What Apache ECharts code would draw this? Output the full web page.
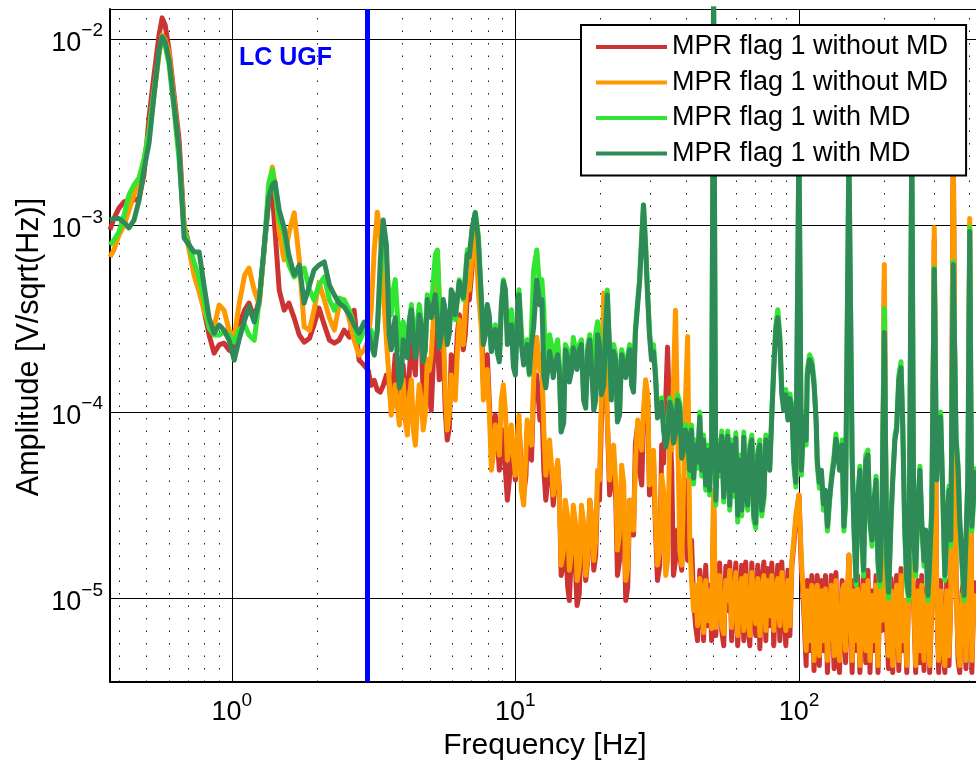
<!DOCTYPE html>
<html><head><meta charset="utf-8">
<script src="https://cdn.jsdelivr.net/npm/echarts@6/dist/echarts.min.js"></script>
<style>html,body{margin:0;padding:0;background:#fff}#c{width:976px;height:765px}</style>
</head><body><div id="c"></div>
<script>
// Frequencies [Hz] shared by all four spectra
const freqHz = [
0.372,0.384,0.400,0.417,0.434,0.452,0.471,0.490,0.511,0.532,0.554,0.568,0.582,0.601,0.626,0.652,0.679,0.707,0.736,0.767,0.798,0.832,0.866,0.902,0.939,0.978,1.02,1.06,1.11,1.15,1.20,1.25,1.30,1.35,1.39,1.42,1.47,1.53,1.59,1.66,1.73,1.80,1.88,1.95,2.03,2.12,2.21,2.30,2.39,2.49,2.60,2.70,2.81,2.93,
3.03,3.10,3.18,3.26,3.34,3.42,3.51,3.59,
3.65,3.71,3.77,3.83,3.90,3.96,4.02,4.09,4.16,4.23,
4.30,4.37,4.44,4.51,4.58,4.66,4.73,4.81,4.89,4.97,
5.05,5.14,5.22,5.31,5.39,5.48,5.57,5.66,5.75,5.85,
5.94,6.04,6.14,6.24,6.34,6.45,6.55,6.66,6.77,6.88,
7.05,7.22,7.40,7.59,
7.71,7.84,7.96,8.09,8.23,8.36,8.50,8.64,8.78,8.92,
9.07,9.22,9.37,9.52,9.68,9.84,10.0,10.2,10.3,10.5,
10.7,10.9,11.0,11.2,11.4,11.6,
11.9,12.2,
12.4,12.6,12.8,13.0,13.2,13.4,13.6,13.8,14.1,14.3,
14.5,
14.8,15.0,15.3,15.5,15.8,16.0,16.3,16.5,16.8,17.1,
17.4,17.7,18.0,18.3,18.6,18.9,19.2,19.5,19.8,20.1,
20.5,20.8,21.1,21.5,21.8,22.2,22.6,22.9,23.3,23.7,
24.1,24.5,24.9,25.3,25.7,26.1,26.5,27.0,27.4,27.9,
28.3,28.8,29.3,29.7,30.2,30.7,31.2,31.7,32.3,32.8,
33.3,33.9,34.4,35.0,35.6,36.1,36.7,37.3,38.0,38.6,
39.2,39.8,
40.5,41.2,41.8,42.5,43.2,43.9,44.7,45.4,46.1,46.9,47.7,48.4,49.2,50,
50.9,51.7,52.5,53.4,54.3,55.2,56.1,57.0,57.9,58.9,59.9,60.8,61.8,62.8,63.9,64.9,66.0,67.1,68.2,69.3,70.4,71.6,72.8,73.9,75.2,76.4,77.6,78.9,80.2,81.5,82.9,84.2,85.6,87.0,88.4,89.9,91.4,92.9,94.4,95.9,97.5,100,
102,104,106,107,109,111,113,115,116,118,120,122,124,126,128,130,133,135,137,139,142,144,146,150,
154,156,159,161,164,167,169,172,175,178,181,184,187,190,193,196,200,
204,207,211,214,218,221,225,229,232,236,240,244,250,
254,258,263,267,271,276,280,285,289,294,300,
306,311,316,322,327,332,338,343,350,
358,364,369,376,382,388,394,400,407,414,421
];
// MPR flag 1 without MD (red)
const ampRed = [
9.50e-4,1.09e-3,1.24e-3,1.34e-3,1.37e-3,1.37e-3,1.40e-3,1.87e-3,3.83e-3,6.43e-3,1.05e-2,1.30e-2,1.19e-2,8.76e-3,5.02e-3,2.88e-3,1.00e-3,7.87e-4,6.14e-4,5.10e-4,3.52e-4,2.59e-4,2.07e-4,2.29e-4,2.34e-4,2.15e-4,2.07e-4,2.93e-4,3.52e-4,3.84e-4,3.19e-4,3.99e-4,7.40e-4,1.37e-3,1.49e-3,9.50e-4,4.51e-4,3.52e-4,3.84e-4,3.19e-4,2.59e-4,2.37e-4,2.49e-4,2.93e-4,3.61e-4,2.93e-4,2.43e-4,2.34e-4,2.43e-4,2.75e-4,2.52e-4,3.52e-4,1.90e-4,1.78e-4,
1.67e-4,1.39e-4,1.48e-4,1.31e-4,1.28e-4,1.39e-4,1.58e-4,1.39e-4,
1.09e-4,1.48e-4,2.03e-4,1.67e-4,1.09e-4,1.39e-4,1.79e-4,1.31e-4,1.02e-4,1.67e-4,
2.44e-4,1.90e-4,1.58e-4,2.93e-4,3.54e-4,2.43e-4,1.24e-4,1.48e-4,1.91e-4,1.23e-4,
1.02e-4,1.90e-4,2.94e-4,2.43e-4,1.49e-4,1.78e-4,2.16e-4,1.02e-4,7.08e-5,8.20e-5,
2.03e-4,1.90e-4,1.58e-4,2.59e-4,3.33e-4,2.75e-4,2.16e-4,2.59e-4,4.26e-4,3.99e-4,
6.14e-4,8.91e-4,5.43e-4,3.52e-4,
1.40e-4,1.67e-4,2.03e-4,1.16e-4,6.65e-5,8.00e-5,9.63e-5,7.07e-5,4.88e-5,6.25e-5,
8.01e-5,4.88e-5,3.37e-5,4.31e-5,7.08e-5,5.52e-5,4.32e-5,7.07e-5,8.52e-5,4.88e-5,
3.59e-5,4.59e-5,8.01e-5,6.65e-5,5.52e-5,1.31e-4,
1.58e-4,9.05e-5,
1.09e-4,4.88e-5,3.37e-5,4.31e-5,5.88e-5,4.88e-5,3.17e-5,4.05e-5,5.19e-5,3.81e-5,
1.33e-5,
1.60e-5,2.06e-5,1.15e-5,9.76e-6,1.93e-5,2.47e-5,1.42e-5,9.17e-6,1.06e-5,2.47e-5,
2.06e-5,1.25e-5,1.60e-5,3.37e-5,2.63e-5,1.42e-5,1.71e-5,4.06e-5,3.37e-5,9.06e-5,
3.99e-4,1.49e-4,9.05e-5,3.59e-5,4.31e-5,5.52e-5,3.37e-5,1.33e-5,1.60e-5,4.32e-5,
3.37e-5,9.76e-6,1.15e-5,3.37e-5,2.63e-5,2.19e-5,6.81e-5,8.52e-5,4.88e-5,4.06e-5,
9.05e-5,1.40e-4,1.16e-4,3.59e-5,4.31e-5,5.52e-5,2.33e-5,1.25e-5,1.51e-5,6.65e-5,
5.32e-5,1.16e-4,2.23e-4,9.06e-5,4.88e-5,1.33e-5,1.60e-5,2.33e-5,1.71e-5,1.42e-5,
3.37e-5,4.32e-5,
1.60e-5,1.93e-5,2.06e-5,9.76e-6,7.16e-6,5.95e-6,1.42e-5,1.10e-5,5.95e-6,1.51e-5,7.16e-6,1.18e-5,5.95e-6,3.37e-5,
6.33e-6,1.33e-5,1.55e-5,6.74e-6,5.59e-6,1.49e-5,8.62e-6,1.57e-5,5.95e-6,1.10e-5,1.55e-5,5.59e-6,9.76e-6,1.51e-5,5.95e-6,1.57e-5,7.62e-6,5.59e-6,1.55e-5,8.62e-6,6.33e-6,1.51e-5,5.39e-6,1.18e-5,1.57e-5,5.95e-6,1.45e-5,7.16e-6,1.55e-5,5.59e-6,1.10e-5,1.51e-5,5.95e-6,1.57e-5,8.62e-6,5.59e-6,1.42e-5,6.33e-6,1.51e-5,1.93e-5,2.63e-5,3.59e-5,
1.42e-5,8.62e-6,4.37e-6,1.25e-5,5.26e-6,1.33e-5,4.11e-6,9.17e-6,1.33e-5,4.37e-6,1.25e-5,5.26e-6,1.33e-5,4.01e-6,8.11e-6,1.33e-5,4.21e-6,1.38e-5,5.26e-6,4.01e-6,1.25e-5,1.28e-5,4.53e-6,1.71e-5,
4.01e-6,1.25e-5,5.26e-6,1.33e-5,4.01e-6,9.17e-6,1.33e-5,4.53e-6,1.42e-5,4.01e-6,1.10e-5,5.26e-6,1.33e-5,4.01e-6,1.25e-5,6.74e-6,5.13e-4,
6.74e-6,4.21e-6,1.28e-5,4.01e-6,9.76e-6,1.33e-5,4.11e-6,1.45e-5,5.26e-6,9.76e-6,4.01e-6,1.25e-5,1.60e-5,
9.17e-6,4.01e-6,1.25e-5,4.53e-6,1.33e-5,4.11e-6,9.76e-6,1.25e-5,4.01e-6,9.17e-6,8.41e-4,
1.04e-5,4.01e-6,1.25e-5,5.26e-6,4.01e-6,1.25e-5,4.37e-6,9.76e-6,3.00e-3,
1.33e-5,4.65e-6,4.01e-6,1.10e-5,1.28e-5,4.21e-6,8.62e-6,9.52e-4,4.01e-6,1.10e-5,1.25e-5
];
// MPR flag 1 without MD (orange)
const ampOrange = [
6.78e-4,7.40e-4,8.91e-4,1.00e-3,1.21e-3,1.46e-3,1.76e-3,2.25e-3,3.14e-3,5.02e-3,8.24e-3,1.05e-2,9.91e-3,8.44e-3,4.72e-3,2.55e-3,1.00e-3,7.40e-4,5.43e-4,4.40e-4,3.52e-4,2.93e-4,2.86e-4,3.75e-4,3.52e-4,2.75e-4,2.52e-4,3.75e-4,5.43e-4,5.92e-4,4.51e-4,3.75e-4,7.40e-4,1.55e-3,2.06e-3,1.69e-3,9.24e-4,6.54e-4,9.13e-4,1.17e-3,6.54e-4,2.86e-4,2.75e-4,3.52e-4,4.92e-4,3.99e-4,3.19e-4,2.75e-4,3.75e-4,3.99e-4,3.11e-4,2.43e-4,2.02e-4,2.15e-4,
2.43e-4,3.52e-4,7.40e-4,1.18e-3,8.91e-4,4.51e-4,2.43e-4,1.48e-4,
9.63e-5,1.16e-4,1.40e-4,1.09e-4,8.52e-5,1.23e-4,1.49e-4,9.05e-5,7.53e-5,1.23e-4,
1.49e-4,8.00e-5,6.65e-5,1.02e-4,1.40e-4,1.16e-4,8.01e-5,9.62e-5,1.91e-4,1.67e-4,
2.03e-4,3.11e-4,4.53e-4,7.22e-4,4.01e-4,2.75e-4,2.77e-4,1.31e-4,8.01e-5,1.00e-4,
1.58e-4,1.31e-4,1.16e-4,2.02e-4,3.13e-4,2.75e-4,2.30e-4,3.52e-4,5.13e-4,4.51e-4,
6.95e-4,9.50e-4,4.51e-4,2.75e-4,
1.16e-4,1.39e-4,1.69e-4,1.02e-4,4.88e-5,5.87e-5,8.52e-5,7.07e-5,5.88e-5,1.16e-4,
1.40e-4,1.02e-4,5.52e-5,6.65e-5,8.52e-5,5.87e-5,4.59e-5,8.00e-5,9.63e-5,3.81e-5,
3.17e-5,6.25e-5,9.06e-5,7.52e-5,6.65e-5,1.48e-4,
2.52e-4,1.67e-4,
1.91e-4,8.00e-5,4.59e-5,5.87e-5,7.08e-5,5.19e-5,3.59e-5,4.31e-5,5.52e-5,3.58e-5,
1.51e-5,
1.82e-5,3.37e-5,2.73e-5,1.42e-5,1.82e-5,3.17e-5,2.54e-5,1.25e-5,1.47e-5,3.17e-5,
2.54e-5,1.33e-5,1.66e-5,3.37e-5,2.73e-5,1.60e-5,2.06e-5,4.88e-5,4.31e-5,1.16e-4,
4.35e-4,1.91e-4,9.39e-5,4.32e-5,5.32e-5,6.65e-5,4.16e-5,1.82e-5,2.24e-5,5.19e-5,
4.16e-5,1.25e-5,1.47e-5,3.37e-5,2.73e-5,2.33e-5,5.32e-5,9.06e-5,7.33e-5,6.25e-5,
1.02e-4,1.49e-4,1.23e-4,4.06e-5,4.88e-5,6.25e-5,2.63e-5,1.51e-5,1.82e-5,4.59e-5,
3.81e-5,1.33e-5,1.60e-5,7.08e-5,6.25e-5,1.49e-4,3.52e-4,9.06e-5,1.82e-5,1.51e-5,
4.16e-5,1.16e-4,
2.54e-4,2.06e-5,1.25e-5,8.62e-6,1.18e-5,7.16e-6,1.28e-5,9.76e-6,6.57e-6,1.25e-5,7.62e-6,1.10e-5,6.90e-6,3.81e-5,
6.99e-6,1.10e-5,1.33e-5,7.16e-6,6.49e-6,1.25e-5,9.76e-6,1.42e-5,6.99e-6,9.76e-6,1.38e-5,6.33e-6,9.76e-6,1.28e-5,6.74e-6,1.33e-5,8.11e-6,6.33e-6,1.38e-5,9.76e-6,7.34e-6,1.28e-5,6.33e-6,1.10e-5,1.33e-5,6.74e-6,1.25e-5,8.11e-6,1.33e-5,6.74e-6,1.10e-5,1.28e-5,7.16e-6,1.38e-5,9.76e-6,6.74e-6,1.25e-5,7.16e-6,1.60e-5,2.06e-5,2.80e-5,3.59e-5,
1.60e-5,9.76e-6,5.26e-6,1.10e-5,5.95e-6,1.18e-5,4.65e-6,9.76e-6,1.18e-5,4.94e-6,1.10e-5,5.95e-6,1.13e-5,4.65e-6,8.62e-6,1.18e-5,4.94e-6,1.25e-5,5.95e-6,4.65e-6,1.10e-5,1.18e-5,5.26e-6,1.71e-5,
4.65e-6,1.10e-5,5.95e-6,1.13e-5,4.37e-6,9.76e-6,1.18e-5,5.26e-6,1.25e-5,4.65e-6,1.04e-5,5.95e-6,1.18e-5,4.37e-6,1.10e-5,7.62e-6,6.18e-4,
7.62e-6,4.94e-6,1.10e-5,4.37e-6,9.76e-6,1.18e-5,4.65e-6,1.33e-5,5.95e-6,9.76e-6,4.37e-6,1.10e-5,1.60e-5,
9.76e-6,4.37e-6,1.10e-5,5.26e-6,1.18e-5,4.65e-6,9.76e-6,1.10e-5,4.37e-6,9.76e-6,9.76e-4,
9.76e-6,4.65e-6,1.10e-5,5.95e-6,4.37e-6,1.10e-5,4.94e-6,9.76e-6,3.00e-3,
1.18e-5,5.26e-6,4.37e-6,1.04e-5,1.10e-5,4.65e-6,8.62e-6,1.09e-3,4.65e-6,1.04e-5,9.76e-6
];
// MPR flag 1 with MD (light green)
const ampLightGreen = [
7.87e-4,8.37e-4,9.24e-4,1.14e-3,1.46e-3,1.65e-3,1.80e-3,2.25e-3,3.26e-3,5.34e-3,8.55e-3,1.03e-2,9.32e-3,7.28e-3,4.17e-3,2.25e-3,9.50e-4,7.87e-4,6.38e-4,5.23e-4,3.99e-4,2.82e-4,2.59e-4,2.59e-4,2.68e-4,2.59e-4,2.37e-4,2.75e-4,2.93e-4,2.59e-4,2.43e-4,3.99e-4,7.40e-4,1.69e-3,1.99e-3,1.55e-3,1.07e-3,9.13e-4,6.14e-4,5.30e-4,5.64e-4,5.92e-4,4.51e-4,3.99e-4,4.80e-4,5.30e-4,3.99e-4,3.52e-4,4.09e-4,3.99e-4,3.52e-4,2.93e-4,2.37e-4,2.75e-4,
2.59e-4,2.75e-4,2.29e-4,2.75e-4,5.10e-4,9.50e-4,6.54e-4,3.99e-4,
3.33e-4,4.51e-4,5.13e-4,3.52e-4,2.16e-4,2.43e-4,3.05e-4,2.59e-4,2.30e-4,3.11e-4,
3.77e-4,2.75e-4,2.38e-4,2.93e-4,3.77e-4,3.11e-4,1.91e-4,2.15e-4,4.26e-4,3.99e-4,
3.54e-4,5.10e-4,6.99e-4,7.40e-4,4.01e-4,3.11e-4,3.77e-4,2.93e-4,2.38e-4,2.75e-4,
4.11e-4,3.52e-4,3.13e-4,3.99e-4,5.13e-4,4.51e-4,4.01e-4,5.43e-4,7.43e-4,6.95e-4,
9.71e-4,1.18e-3,8.91e-4,3.99e-4,
2.44e-4,2.75e-4,3.63e-4,3.11e-4,2.11e-4,2.43e-4,2.94e-4,2.15e-4,1.91e-4,3.52e-4,
5.13e-4,4.51e-4,2.77e-4,3.11e-4,3.54e-4,1.90e-4,1.69e-4,3.99e-4,4.53e-4,2.75e-4,
1.86e-4,2.15e-4,2.44e-4,1.58e-4,2.77e-4,5.78e-4,
7.40e-4,4.51e-4,
5.13e-4,3.52e-4,1.69e-4,1.90e-4,2.60e-4,2.29e-4,1.86e-4,2.15e-4,2.44e-4,1.78e-4,
8.01e-5,
9.05e-5,2.30e-4,2.15e-4,1.58e-4,1.86e-4,2.51e-4,2.15e-4,1.86e-4,2.29e-4,2.44e-4,
1.28e-4,1.16e-4,2.29e-4,2.60e-4,1.90e-4,1.69e-4,2.65e-4,3.05e-4,2.43e-4,1.32e-4,
1.48e-4,3.13e-4,4.51e-4,1.91e-4,1.23e-4,2.30e-4,2.02e-4,9.29e-5,1.02e-4,2.16e-4,
1.90e-4,1.69e-4,2.02e-4,2.30e-4,1.52e-4,1.40e-4,2.82e-4,4.01e-4,5.10e-4,8.95e-4,
1.29e-3,7.91e-4,4.24e-4,2.77e-4,2.02e-4,2.30e-4,1.64e-4,1.00e-4,1.09e-4,1.19e-4,
8.51e-5,6.90e-5,7.80e-5,1.19e-4,1.09e-4,7.25e-5,8.20e-5,1.24e-4,1.13e-4,6.10e-5,
6.65e-5,8.52e-5,
7.81e-5,4.53e-5,8.52e-5,4.11e-5,7.08e-5,5.00e-5,1.00e-4,4.53e-5,7.53e-5,3.81e-5,6.65e-5,3.59e-5,7.08e-5,2.00e-2,
3.17e-5,7.08e-5,4.53e-5,7.91e-5,3.29e-5,6.65e-5,7.91e-5,2.98e-5,7.08e-5,3.54e-5,7.72e-5,2.57e-5,5.88e-5,2.77e-5,7.81e-5,3.37e-5,2.98e-5,6.65e-5,7.53e-5,2.63e-5,2.38e-5,6.25e-5,7.08e-5,2.77e-5,3.37e-5,7.53e-5,6.25e-5,5.19e-5,1.00e-4,1.79e-4,2.94e-4,3.54e-4,2.60e-4,1.32e-4,1.09e-4,1.32e-4,9.63e-5,1.25e-4,1.09e-4,5.19e-5,3.96e-5,3.00e-3,
4.59e-5,1.00e-4,6.65e-5,1.69e-4,2.03e-4,1.91e-4,1.49e-4,8.52e-5,5.19e-5,3.91e-5,4.59e-5,2.98e-5,3.59e-5,2.30e-5,3.17e-5,4.42e-5,5.88e-5,7.62e-5,5.88e-5,5.13e-5,7.08e-5,2.30e-5,3.17e-5,2.50e-3,
5.88e-5,2.47e-5,1.18e-5,3.17e-5,5.13e-5,1.91e-5,1.32e-5,5.88e-5,6.25e-5,2.47e-5,1.91e-5,3.17e-5,4.53e-5,1.49e-5,1.16e-5,2.47e-5,3.59e-4,
1.49e-5,1.00e-5,2.47e-5,4.42e-5,7.53e-5,8.41e-5,1.58e-4,1.86e-4,9.63e-5,2.30e-5,1.16e-5,9.76e-6,3.00e-3,
1.93e-5,1.32e-5,3.17e-5,5.13e-5,2.47e-5,1.49e-5,2.19e-5,9.76e-6,1.49e-5,3.13e-5,5.95e-4,
4.53e-5,9.52e-5,1.00e-4,3.17e-5,1.25e-5,2.19e-5,4.01e-5,1.91e-5,6.41e-4,
7.53e-5,5.13e-5,2.47e-5,1.49e-5,9.76e-6,1.91e-5,4.53e-5,9.76e-4,2.30e-5,3.59e-5,5.13e-5
];
// MPR flag 1 with MD (dark green)
const ampDarkGreen = [
1.07e-3,1.09e-3,1.09e-3,1.04e-3,9.71e-4,1.07e-3,1.37e-3,1.99e-3,2.78e-3,5.02e-3,8.76e-3,1.03e-2,9.67e-3,7.74e-3,4.44e-3,2.55e-3,8.58e-4,7.87e-4,7.22e-4,7.22e-4,4.80e-4,3.19e-4,2.65e-4,2.93e-4,2.75e-4,2.43e-4,1.90e-4,2.43e-4,3.11e-4,3.66e-4,3.04e-4,3.99e-4,7.68e-4,1.42e-3,1.65e-3,1.71e-3,1.21e-3,9.71e-4,6.95e-4,5.43e-4,6.14e-4,3.84e-4,4.80e-4,5.78e-4,6.14e-4,6.38e-4,4.80e-4,4.24e-4,3.84e-4,3.66e-4,3.31e-4,2.93e-4,2.65e-4,3.04e-4,
2.75e-4,2.29e-4,2.02e-4,2.75e-4,6.54e-4,1.07e-3,7.87e-4,2.59e-4,
2.16e-4,2.75e-4,3.21e-4,2.02e-4,1.35e-4,1.48e-4,2.44e-4,2.15e-4,1.96e-4,3.11e-4,
3.54e-4,2.43e-4,1.96e-4,2.29e-4,3.33e-4,2.93e-4,1.86e-4,2.15e-4,4.01e-4,3.99e-4,
3.21e-4,3.75e-4,4.26e-4,3.11e-4,2.21e-4,2.59e-4,4.01e-4,3.52e-4,2.30e-4,2.65e-4,
4.53e-4,4.24e-4,3.33e-4,3.99e-4,5.00e-4,4.51e-4,4.11e-4,5.10e-4,6.99e-4,6.78e-4,
9.83e-4,1.17e-3,8.37e-4,3.99e-4,
2.30e-4,2.59e-4,3.77e-4,3.31e-4,2.11e-4,2.43e-4,2.77e-4,2.07e-4,1.86e-4,3.75e-4,
5.00e-4,4.51e-4,2.30e-4,2.59e-4,2.94e-4,1.74e-4,1.58e-4,3.99e-4,4.26e-4,2.29e-4,
1.79e-4,2.10e-4,2.30e-4,1.61e-4,2.30e-4,2.86e-4,
5.10e-4,3.75e-4,
4.01e-4,1.58e-4,1.35e-4,1.67e-4,2.11e-4,1.86e-4,1.53e-4,1.78e-4,2.03e-4,1.64e-4,
7.81e-5,
8.72e-5,2.16e-4,1.97e-4,1.45e-4,1.67e-4,2.21e-4,1.90e-4,1.69e-4,2.15e-4,2.30e-4,
1.16e-4,1.05e-4,2.15e-4,2.44e-4,1.64e-4,1.02e-4,1.16e-4,2.60e-4,2.29e-4,1.24e-4,
1.39e-4,2.77e-4,4.24e-4,2.16e-4,1.16e-4,2.11e-4,1.90e-4,8.84e-5,9.62e-5,2.03e-4,
1.78e-4,1.53e-4,1.90e-4,2.16e-4,1.39e-4,1.28e-4,2.65e-4,3.77e-4,4.92e-4,8.41e-4,
1.29e-3,7.43e-4,3.99e-4,2.60e-4,1.90e-4,2.11e-4,1.54e-4,9.29e-5,1.02e-4,1.13e-4,
8.00e-5,6.49e-5,7.33e-5,1.13e-4,1.02e-4,6.82e-5,7.71e-5,1.16e-4,1.06e-4,5.66e-5,
6.25e-5,8.01e-5,
7.34e-5,4.88e-5,8.01e-5,4.42e-5,6.65e-5,5.39e-5,9.40e-5,4.88e-5,7.08e-5,4.06e-5,6.25e-5,3.81e-5,6.65e-5,2.00e-2,
3.37e-5,6.65e-5,4.88e-5,7.43e-5,3.50e-5,6.25e-5,7.43e-5,3.17e-5,6.65e-5,3.81e-5,7.25e-5,2.80e-5,5.52e-5,2.98e-5,7.34e-5,3.59e-5,3.17e-5,6.25e-5,7.08e-5,2.80e-5,2.54e-5,5.88e-5,6.65e-5,2.98e-5,3.59e-5,7.08e-5,5.88e-5,4.88e-5,9.40e-5,1.69e-4,2.77e-4,3.21e-4,2.44e-4,1.24e-4,1.02e-4,1.24e-4,9.06e-5,1.18e-4,1.02e-4,5.52e-5,4.21e-5,3.00e-3,
4.88e-5,9.40e-5,7.08e-5,1.58e-4,1.91e-4,1.79e-4,1.40e-4,9.06e-5,5.52e-5,4.21e-5,4.88e-5,3.21e-5,3.81e-5,2.44e-5,3.37e-5,4.21e-5,5.52e-5,7.16e-5,6.25e-5,4.88e-5,6.65e-5,2.44e-5,3.37e-5,2.50e-3,
5.52e-5,2.63e-5,1.25e-5,3.37e-5,4.88e-5,2.06e-5,1.42e-5,5.52e-5,5.88e-5,2.63e-5,2.06e-5,3.37e-5,4.32e-5,1.60e-5,1.25e-5,2.63e-5,2.67e-4,
1.60e-5,1.08e-5,2.63e-5,4.21e-5,7.08e-5,8.01e-5,1.49e-4,1.73e-4,9.06e-5,2.44e-5,1.25e-5,1.04e-5,3.00e-3,
2.06e-5,1.42e-5,3.37e-5,4.88e-5,2.63e-5,1.60e-5,2.33e-5,1.04e-5,1.60e-5,2.98e-5,5.81e-4,
4.32e-5,9.06e-5,9.40e-5,3.37e-5,1.33e-5,2.33e-5,3.81e-5,2.06e-5,6.18e-4,
7.16e-5,4.88e-5,2.63e-5,1.60e-5,1.04e-5,2.06e-5,4.32e-5,9.29e-4,2.44e-5,3.81e-5,4.88e-5
];
const seriesLabels = ['MPR flag 1 without MD','MPR flag 1 without MD','MPR flag 1 with MD','MPR flag 1 with MD'];
const seriesColors = ['#CC3333','#FF9900','#33E533','#2E8B57'];
const ugfFreq = 3;
const ugfLabel = 'LC UGF';
const xRange = [0.372, 421];
const yRange = [3.57e-6, 1.45e-2];
const xMinorTicks = [0.4,0.5,0.6,0.7,0.8,0.9,2,3,4,5,6,7,8,9,20,30,40,50,60,70,80,90,200,300,400];
const yMinorTicks = [4e-6,5e-6,6e-6,7e-6,8e-6,9e-6,2e-5,3e-5,4e-5,5e-5,6e-5,7e-5,8e-5,9e-5,2e-4,3e-4,4e-4,5e-4,6e-4,7e-4,8e-4,9e-4,2e-3,3e-3,4e-3,5e-3,6e-3,7e-3,8e-3,9e-3];
const xTitle = 'Frequency [Hz]';
const yTitle = 'Amplitude [V/sqrt(Hz)]';

const FONT = '"Liberation Sans", Arial, Helvetica, sans-serif';
const ampSets = [ampRed, ampOrange, ampLightGreen, ampDarkGreen];
const uniqueNames = seriesLabels.map((n, i) => n + '#' + i);

function pow10Label(v) {
  const e = Math.log10(v);
  const r = Math.round(e);
  if (Math.abs(e - r) > 1e-6) return '';
  return '{b|10}{s|' + (r < 0 ? '\u2212' + (-r) : String(r)) + '}';
}
const labelRich = {
  b: { fontSize: 27, fontFamily: FONT, color: '#000', lineHeight: 35, verticalAlign: 'bottom' },
  s: { fontSize: 19, fontFamily: FONT, color: '#000', lineHeight: 20, verticalAlign: 'top' }
};

const dataSeries = ampSets.map((amp, i) => ({
  type: 'line',
  name: uniqueNames[i],
  data: freqHz.map((f, j) => [f, amp[j]]).filter(p => p[1] !== undefined),
  symbol: 'none', showSymbol: false,
  lineStyle: { color: seriesColors[i], width: 5, join: 'round' },
  itemStyle: { color: seriesColors[i] },
  clip: true, animation: false, silent: true
}));

const gridSeries = {
  type: 'line', name: 'minor-grid', data: [], silent: true, animation: false,
  markLine: {
    silent: true, symbol: ['none', 'none'], animation: false, z: 1,
    label: { show: false },
    lineStyle: { color: '#000', width: 1, type: [1.5, 11], opacity: 0.9 },
    data: xMinorTicks.map(v => ({ xAxis: v })).concat(yMinorTicks.map(v => ({ yAxis: v })))
  }
};
const ugfSeries = {
  type: 'line', name: 'ugf', data: [], silent: true, animation: false,
  markLine: {
    silent: true, symbol: ['none', 'none'], animation: false, z: 20,
    label: { show: false },
    lineStyle: { color: '#0000FF', width: 5, type: 'solid' },
    data: [{ xAxis: ugfFreq }]
  }
};

const chart = echarts.init(document.getElementById('c'), null, { renderer: 'canvas' });
chart.setOption({
  animation: false,
  backgroundColor: '#fff',
  grid: { left: 110, top: 9, width: 866, height: 673, containLabel: false },
  xAxis: [{
    type: 'log', logBase: 10, min: xRange[0], max: xRange[1], position: 'bottom',
    axisLine: { show: true, onZero: false, lineStyle: { color: '#000', width: 2 } },
    axisTick: { show: true, inside: true, length: 9, lineStyle: { color: '#000', width: 1 } },
    axisLabel: { formatter: pow10Label, margin: 9, rich: labelRich, showMinLabel: false, showMaxLabel: false },
    splitLine: { show: true, lineStyle: { color: '#000', width: 1 } },
    minorTick: { show: false }, minorSplitLine: { show: false }
  }, {
    type: 'log', logBase: 10, min: xRange[0], max: xRange[1], position: 'top',
    axisLine: { show: true, onZero: false, lineStyle: { color: '#000', width: 1 } },
    axisTick: { show: true, inside: true, length: 9, lineStyle: { color: '#000', width: 1 } },
    axisLabel: { show: false }, splitLine: { show: false }
  }],
  yAxis: [{
    type: 'log', logBase: 10, min: yRange[0], max: yRange[1], position: 'left',
    axisLine: { show: true, onZero: false, lineStyle: { color: '#000', width: 2 } },
    axisTick: { show: true, inside: true, length: 9, lineStyle: { color: '#000', width: 1 } },
    axisLabel: { formatter: pow10Label, margin: 7, rich: labelRich, showMinLabel: false, showMaxLabel: false },
    splitLine: { show: true, lineStyle: { color: '#000', width: 1 } },
    minorTick: { show: false }, minorSplitLine: { show: false }
  }],
  legend: {
    data: uniqueNames,
    formatter: n => seriesLabels[uniqueNames.indexOf(n)],
    orient: 'vertical', left: 581, top: 25,
    padding: [7, 18, 7, 15], itemGap: 5.5, itemWidth: 71, itemHeight: 4, icon: 'rect',
    backgroundColor: '#fff', borderColor: '#000', borderWidth: 2, borderRadius: 0,
    textStyle: { fontSize: 27, fontFamily: FONT, color: '#000', lineHeight: 30 },
    selectedMode: false
  },
  graphic: [
    { type: 'text', x: 545, y: 746, silent: true,
      style: { text: xTitle, fontSize: 30, fontFamily: FONT, fill: '#000', align: 'center', verticalAlign: 'middle' } },
    { type: 'text', x: 30, y: 347, rotation: Math.PI / 2, silent: true,
      style: { text: yTitle, fontSize: 30.5, fontFamily: FONT, fill: '#000', align: 'center', verticalAlign: 'middle' } },
    { type: 'text', x: 239, y: 58, silent: true, z: 30,
      style: { text: ugfLabel, fontSize: 25, fontWeight: 'bold', fontFamily: FONT, fill: '#0000FF', align: 'left', verticalAlign: 'middle' } }
  ],
  series: [gridSeries].concat(dataSeries, [ugfSeries])
});
</script>
</body></html>
